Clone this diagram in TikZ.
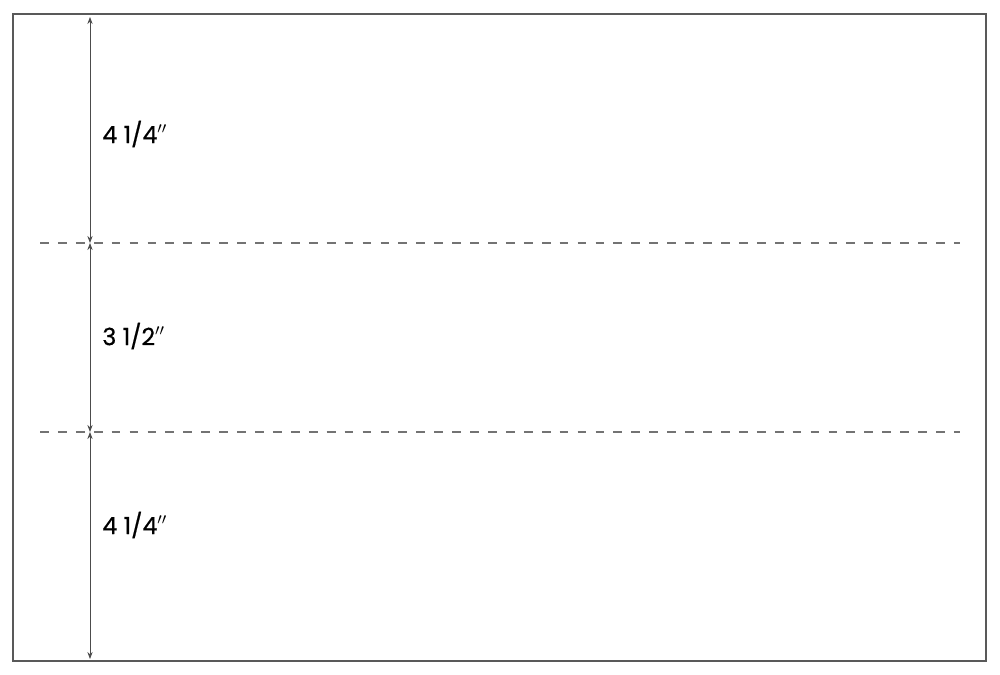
\documentclass[tikz,border=0pt]{standalone}
\usepackage{fontspec}
\setmainfont{Poppins}
\newfontfamily\labelfont[FakeBold=0.6]{Poppins}
\usetikzlibrary{arrows.meta}
\tikzset{%
  sheet/.style    = {draw=black!65, line width=0.9pt},%
  foldline/.style = {draw=black!55, line width=0.7pt, dash pattern=on 5pt off 5.2pt},%
  measure/.style  = {draw=black!70, line width=0.5pt,%
                     {Stealth[length=4pt,width=3pt]}-{Stealth[length=4pt,width=3pt]}},%
  sizelabel/.style = {anchor=west, font=\labelfont\fontsize{13.5pt}{15pt}\selectfont, inner sep=0pt}%
}
\begin{document}
\begin{tikzpicture}[x=0.02cm, y=-0.02cm]
  \useasboundingbox (0,0) rectangle (1000,675);
  % -------------- sheet and fold lines --------------
  \draw[sheet] (13,14) rectangle (986,661);
  \coordinate (FoldAL) at (40,243);
  \coordinate (FoldAR) at (960,243);
  \coordinate (FoldBL) at (40,432);
  \coordinate (FoldBR) at (960,432);
  \draw[foldline] (FoldAL) -- (FoldAR);
  \draw[foldline] (FoldBL) -- (FoldBR);
  % -------------- measures --------------
  \coordinate (Top) at (90,17);
  \coordinate (FoldA) at (90,243);
  \coordinate (FoldB) at (90,432);
  \coordinate (Bottom) at (90,659);
  \draw[measure] (Top) -- (FoldA);
  \draw[measure] (FoldA) -- (FoldB);
  \draw[measure] (FoldB) -- (Bottom);
  \node[sizelabel] (PanelTop) at (102,134) {4 1/4$''$};
  \node[sizelabel] (PanelMid) at (102,336) {3 1/2$''$};
  \node[sizelabel] (PanelBot) at (102,525) {4 1/4$''$};
\end{tikzpicture}
\end{document}
